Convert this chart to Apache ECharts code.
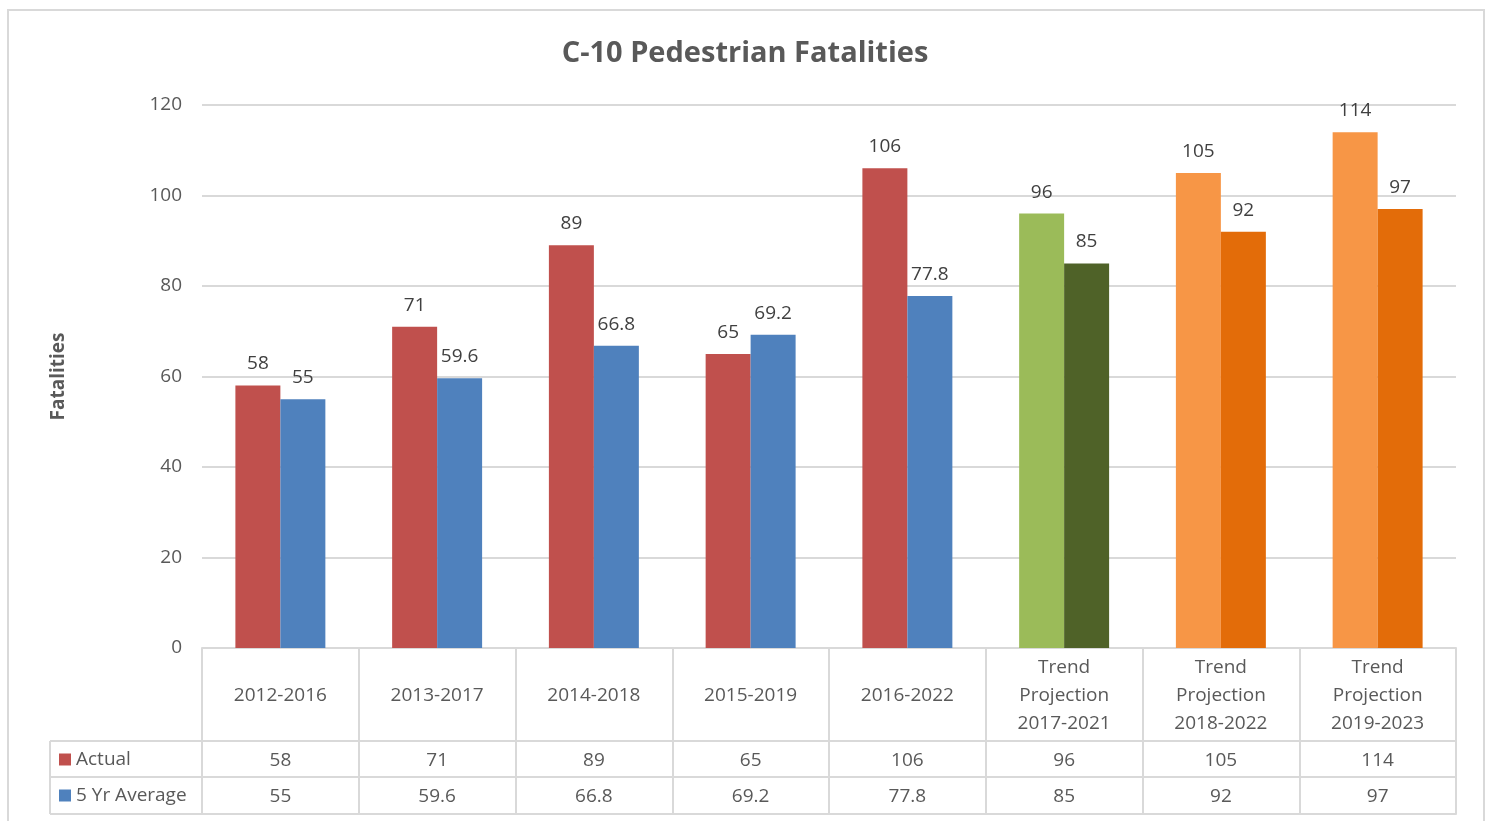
<!DOCTYPE html>
<html>
<head>
<meta charset="utf-8">
<script src="https://cdn.jsdelivr.net/npm/echarts@6/dist/echarts.min.js"></script>
<style>
html, body { margin: 0; padding: 0; background: #fff; }
#main { width: 1490px; height: 821px; }
</style>
</head>
<body>
<div id="main"></div>
<script>
// chart data
var categories = ['2012-2016', '2013-2017', '2014-2018', '2015-2019', '2016-2022',
	'Trend\nProjection\n2017-2021', 'Trend\nProjection\n2018-2022', 'Trend\nProjection\n2019-2023'];
var actual = [58, 71, 89, 65, 106, 96, 105, 114];
var fiveYrAvg = [55, 59.6, 66.8, 69.2, 77.8, 85, 92, 97];
var yTicks = [0, 20, 40, 60, 80, 100, 120];

// bar colours per category (projections are coloured differently)
var actualColors = ['#C0504D', '#C0504D', '#C0504D', '#C0504D', '#C0504D', '#9BBB59', '#F79646', '#F79646'];
var avgColors = ['#4F81BD', '#4F81BD', '#4F81BD', '#4F81BD', '#4F81BD', '#4F6228', '#E36C09', '#E36C09'];

var FONT = 'Open Sans';
var lineCol = '#d9d9d9';

function colored(vals, cols) {
	var out = [];
	for (var i = 0; i < vals.length; i++) {
		out.push({ value: vals[i], itemStyle: { color: cols[i] } });
	}
	return out;
}

var chart = echarts.init(document.getElementById('main'));

var option = {
	animation: false,
	textStyle: { fontFamily: FONT },
	title: {
		text: 'C-10 Pedestrian Fatalities',
		left: 'center',
		top: 34,
		textStyle: { fontFamily: FONT, fontSize: 29, fontWeight: 'bold', color: '#595959' }
	},
	legend: {
		orient: 'vertical',
		left: 54,
		top: 745,
		itemGap: 17,
		itemWidth: 12,
		itemHeight: 12,
		icon: 'rect',
		data: [
			{ name: 'Actual', itemStyle: { color: '#C0504D' } },
			{ name: '5 Yr Average', itemStyle: { color: '#4F81BD' } }
		],
		textStyle: { fontFamily: FONT, fontSize: 19, color: '#595959' }
	},
	grid: { left: 202, right: 34, top: 105, bottom: 173 },
	xAxis: [{
		type: 'category',
		data: categories,
		axisLine: { lineStyle: { color: lineCol, width: 2 } },
		axisTick: { show: true, length: 166, interval: 0, lineStyle: { color: lineCol, width: 2 } },
		axisLabel: {
			interval: 0, margin: 48, verticalAlign: 'middle', lineHeight: 28,
			fontFamily: FONT, fontSize: 19, color: '#595959'
		}
	}, {
		type: 'category',
		position: 'bottom',
		offset: 93,
		data: actual.map(String),
		axisLine: { lineStyle: { color: lineCol, width: 2 } },
		axisTick: { show: false },
		axisLabel: { interval: 0, margin: 20, verticalAlign: 'middle', fontFamily: FONT, fontSize: 19, color: '#595959' }
	}, {
		type: 'category',
		position: 'bottom',
		offset: 129,
		data: fiveYrAvg.map(String),
		axisLine: { lineStyle: { color: lineCol, width: 2 } },
		axisTick: { show: false },
		axisLabel: { interval: 0, margin: 20, verticalAlign: 'middle', fontFamily: FONT, fontSize: 19, color: '#595959' }
	}, {
		type: 'category',
		position: 'bottom',
		offset: 166,
		data: categories,
		axisLine: { lineStyle: { color: lineCol, width: 2 } },
		axisTick: { show: false },
		axisLabel: { show: false }
	}],
	yAxis: {
		type: 'value',
		min: yTicks[0],
		max: yTicks[yTicks.length - 1],
		interval: 20,
		name: 'Fatalities',
		nameLocation: 'middle',
		nameGap: 134,
		nameTextStyle: { fontFamily: FONT, fontSize: 19, fontWeight: 'bold', color: '#595959' },
		axisLine: { show: false },
		axisTick: { show: false },
		axisLabel: { margin: 20, fontFamily: FONT, fontSize: 19, color: '#595959' },
		splitLine: { lineStyle: { color: lineCol, width: 2 } }
	},
	series: [{
		name: 'Actual',
		type: 'bar',
		barGap: '0%',
		barCategoryGap: '42.6%',
		itemStyle: { color: '#C0504D' },
		data: colored(actual, actualColors),
		label: { show: true, position: 'top', distance: 12, fontFamily: FONT, fontSize: 19, color: '#404040' }
	}, {
		name: '5 Yr Average',
		type: 'bar',
		itemStyle: { color: '#4F81BD' },
		data: colored(fiveYrAvg, avgColors),
		label: { show: true, position: 'top', distance: 12, fontFamily: FONT, fontSize: 19, color: '#404040' }
	}],
	graphic: [
		{ type: 'rect', shape: { x: 8, y: 10, width: 1476, height: 820 }, style: { fill: 'none', stroke: lineCol, lineWidth: 2 }, silent: true },
		{ type: 'line', shape: { x1: 50, y1: 741, x2: 50, y2: 814 }, style: { stroke: lineCol, lineWidth: 2 }, silent: true },
		{ type: 'line', shape: { x1: 50, y1: 741, x2: 202, y2: 741 }, style: { stroke: lineCol, lineWidth: 2 }, silent: true },
		{ type: 'line', shape: { x1: 50, y1: 777, x2: 202, y2: 777 }, style: { stroke: lineCol, lineWidth: 2 }, silent: true },
		{ type: 'line', shape: { x1: 50, y1: 814, x2: 202, y2: 814 }, style: { stroke: lineCol, lineWidth: 2 }, silent: true }
	]
};

chart.setOption(option);
</script>
</body>
</html>
